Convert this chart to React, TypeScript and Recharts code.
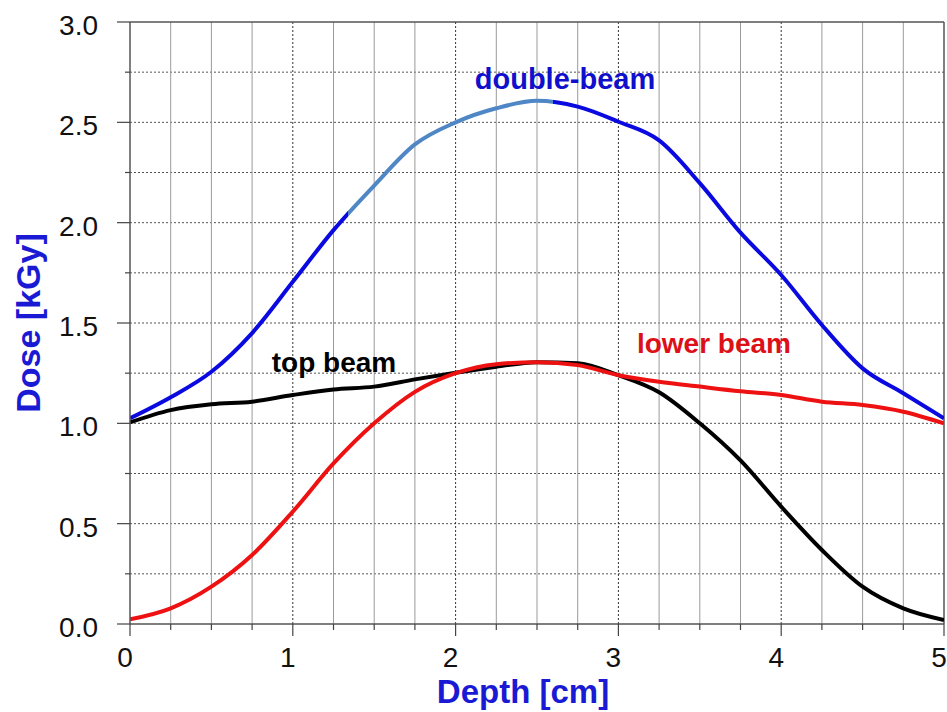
import React from 'react';
import { LineChart, Line, XAxis, YAxis, ReferenceLine, ReferenceDot } from 'recharts';

// Depth positions (cm)
const depth = [0, 0.25, 0.5, 0.75, 1, 1.25, 1.5, 1.75, 2, 2.25, 2.5, 2.75, 3, 3.25, 3.5, 3.75, 4, 4.25, 4.5, 4.75, 5];

// Dose values (kGy)
const doubleBeam = [1.025, 1.13, 1.257, 1.45, 1.705, 1.963, 2.185, 2.39, 2.5, 2.57, 2.607, 2.578, 2.503, 2.41, 2.197, 1.95, 1.739, 1.49, 1.274, 1.15, 1.025];
const topBeam = [1.005, 1.066, 1.095, 1.108, 1.141, 1.169, 1.183, 1.219, 1.252, 1.282, 1.305, 1.3, 1.24, 1.155, 1.0, 0.815, 0.585, 0.369, 0.186, 0.078, 0.02];
const lowerBeam = [0.023, 0.078, 0.186, 0.344, 0.56, 0.8, 1.0, 1.157, 1.25, 1.295, 1.305, 1.29, 1.24, 1.207, 1.183, 1.16, 1.141, 1.108, 1.091, 1.058, 1.0];

// Axis ticks
const xTicks = [0, 0.25, 0.5, 0.75, 1, 1.25, 1.5, 1.75, 2, 2.25, 2.5, 2.75, 3, 3.25, 3.5, 3.75, 4, 4.25, 4.5, 4.75, 5];
const yTicks = [0, 0.25, 0.5, 0.75, 1, 1.25, 1.5, 1.75, 2, 2.25, 2.5, 2.75, 3];

// Lighter stretch of the double-beam curve (cm)
const highlightFrom = 1.34;
const highlightTo = 2.6;

const data = depth.map((d, i) => ({
  depth: d,
  double: doubleBeam[i],
  top: topBeam[i],
  lower: lowerBeam[i],
}));

const FONT = '"Liberation Sans", Arial, Helvetica, sans-serif';
const TITLE_BLUE = '#1a1ad4';
const LINE_BLUE = '#0a0ae0';
const LIGHT_BLUE = '#4f86c6';
const RED = '#ee1111';

const isMajor = (v: number) => Math.abs(v * 2 - Math.round(v * 2)) < 1e-9;

const XTick = (props: any) => {
  const { x, y, payload } = props;
  const v = payload.value as number;
  const major = Number.isInteger(v);
  return (
    <g>
      <line x1={x} x2={x} y1={y} y2={y + (major ? 12 : 6)} stroke="#444" strokeWidth={1.2} />
      {major && (
        <text x={x - 5} y={y + 43} textAnchor="middle" fontSize={28} fontFamily={FONT} fill="#111">
          {v}
        </text>
      )}
    </g>
  );
};

const YTick = (props: any) => {
  const { x, y, payload } = props;
  const v = payload.value as number;
  const major = isMajor(v);
  return (
    <g>
      <line x1={x} x2={x - (major ? 13 : 5)} y1={y} y2={y} stroke="#444" strokeWidth={1.2} />
      {major && (
        <text x={x - 32} y={y + 13} textAnchor="end" fontSize={28} fontFamily={FONT} fill="#111">
          {v.toFixed(1)}
        </text>
      )}
    </g>
  );
};

const XTitle = (props: any) => {
  const vb = props.viewBox;
  return (
    <text
      x={vb.x + vb.width / 2 - 14}
      y={703}
      textAnchor="middle"
      fontSize={33}
      fontWeight="bold"
      fontFamily={FONT}
      fill={TITLE_BLUE}
    >
      Depth [cm]
    </text>
  );
};

const YTitle = (props: any) => {
  const vb = props.viewBox;
  const cx = 28;
  const cy = vb.y + vb.height / 2;
  return (
    <text
      x={cx}
      y={cy}
      transform={`rotate(-90, ${cx}, ${cy})`}
      textAnchor="middle"
      dominantBaseline="central"
      fontSize={34}
      fontWeight="bold"
      fontFamily={FONT}
      fill={TITLE_BLUE}
    >
      Dose [kGy]
    </text>
  );
};

const seriesLabel = (text: string, color: string, size: number) => (props: any) => {
  const vb = props.viewBox;
  return (
    <text
      x={vb.x + (vb.width || 0) / 2}
      y={vb.y + (vb.height || 0) / 2}
      textAnchor="middle"
      fontSize={size}
      fontWeight="bold"
      fontFamily={FONT}
      fill={color}
    >
      {text}
    </text>
  );
};

export default function App() {
  return (
    <div style={{ position: 'absolute', left: 0, top: 0, width: 947, height: 712, background: '#fff' }}>
      <LineChart width={947} height={712} data={data} margin={{ top: 22, right: 3, bottom: 28, left: 0 }}>
        <defs>
          <linearGradient id="doubleStroke" x1="0" y1="0" x2="1" y2="0">
            <stop offset={highlightFrom / 5} stopColor={LINE_BLUE} />
            <stop offset={highlightFrom / 5} stopColor={LIGHT_BLUE} />
            <stop offset={highlightTo / 5} stopColor={LIGHT_BLUE} />
            <stop offset={highlightTo / 5} stopColor={LINE_BLUE} />
          </linearGradient>
        </defs>

        <XAxis
          type="number"
          dataKey="depth"
          domain={[0, 5]}
          ticks={xTicks}
          interval={0}
          height={60}
          tickSize={0}
          tickMargin={0}
          tickLine={false}
          tick={<XTick />}
          stroke="#555"
          strokeWidth={1.5}
          label={<XTitle />}
          allowDataOverflow
        />
        <YAxis
          type="number"
          domain={[0, 3]}
          ticks={yTicks}
          interval={0}
          width={130}
          tickSize={0}
          tickMargin={0}
          tickLine={false}
          tick={<YTick />}
          stroke="#555"
          strokeWidth={1.5}
          label={<YTitle />}
          allowDataOverflow
        />

        {/* horizontal grid */}
        {yTicks.filter((v) => v > 0 && v < 3).map((v) => (
          <ReferenceLine key={`h${v}`} y={v} stroke="#555" strokeWidth={1} strokeDasharray="2 2" />
        ))}
        {/* vertical grid: minor solid, whole centimetres dotted */}
        {xTicks.filter((v) => v > 0 && v < 5 && !Number.isInteger(v)).map((v) => (
          <ReferenceLine key={`vm${v}`} x={v} stroke="#9a9a9a" strokeWidth={1} />
        ))}
        {xTicks.filter((v) => v > 0 && v < 5 && Number.isInteger(v)).map((v) => (
          <ReferenceLine key={`vM${v}`} x={v} stroke="#333" strokeWidth={1} strokeDasharray="2 2" />
        ))}
        {/* frame */}
        <ReferenceLine y={3} stroke="#555" strokeWidth={1.5} />
        <ReferenceLine x={5} stroke="#555" strokeWidth={1.5} />

        <Line type="monotone" dataKey="top" stroke="#000" strokeWidth={4} dot={false} isAnimationActive={false} />
        <Line type="monotone" dataKey="lower" stroke={RED} strokeWidth={4} dot={false} isAnimationActive={false} />
        <Line type="monotone" dataKey="double" stroke="url(#doubleStroke)" strokeWidth={4} dot={false} isAnimationActive={false} />

        <ReferenceDot x={2.672} y={2.666} r={0} fill="none" stroke="none" label={seriesLabel('double-beam', '#1010cc', 29)} />
        <ReferenceDot x={1.253} y={1.256} r={0} fill="none" stroke="none" label={seriesLabel('top beam', '#000', 28)} />
        <ReferenceDot x={3.587} y={1.349} r={0} fill="none" stroke="none" label={seriesLabel('lower beam', '#dd1018', 28)} />
      </LineChart>
    </div>
  );
}
